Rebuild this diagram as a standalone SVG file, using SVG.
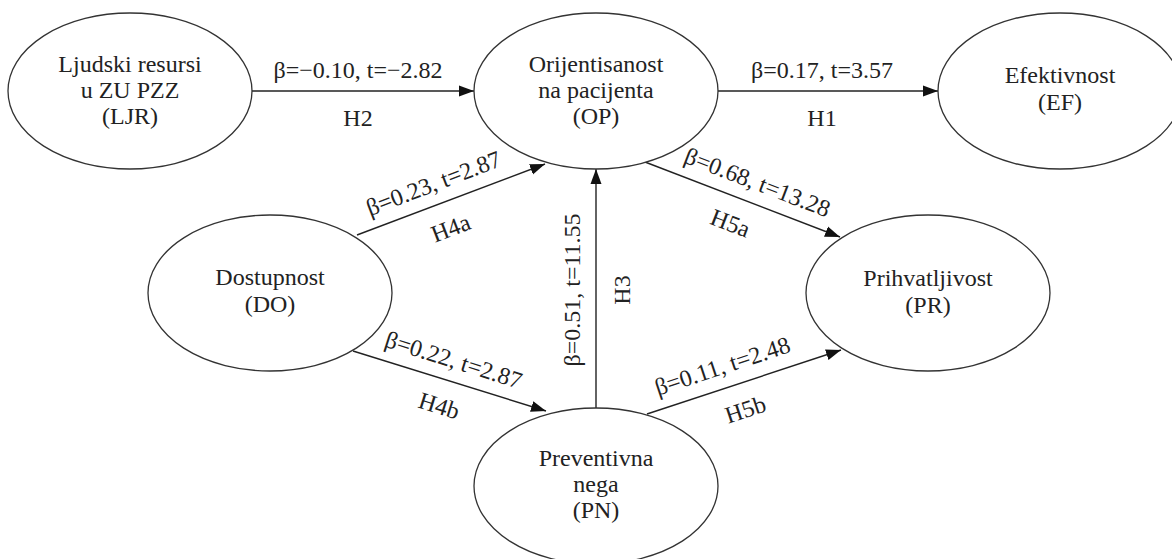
<svg xmlns="http://www.w3.org/2000/svg" width="1172" height="559" viewBox="0 0 1172 559">
<style>
.node ellipse{fill:#fff;stroke:#333;stroke-width:1.3}
text{font-family:"Liberation Serif","Times New Roman",serif;font-size:24px;fill:#222;text-anchor:middle}
.edge line{stroke:#222;stroke-width:1.4;marker-end:url(#ah)}
</style>
<defs>
<marker id="ah" markerUnits="userSpaceOnUse" markerWidth="16" markerHeight="12" refX="15" refY="6" orient="auto">
<path d="M0,0.5 L15,6 L0,11.5 z" fill="#111"/>
</marker>
</defs>
<rect width="1172" height="559" fill="#fff"/>
<g id="edges" class="edge">
<line x1="252" y1="91" x2="474" y2="91"/>
<line x1="718" y1="91" x2="938" y2="91"/>
<line x1="357" y1="235" x2="545" y2="164"/>
<line x1="353" y1="351" x2="546" y2="411"/>
<line x1="596" y1="408" x2="596" y2="169"/>
<line x1="645" y1="162" x2="840" y2="237"/>
<line x1="647" y1="414" x2="841" y2="350"/>
</g>
<g id="edge-labels">
<text x="358" y="78">β=−0.10, t=−2.82</text>
<text x="358" y="126">H2</text>
<text x="822" y="78">β=0.17, t=3.57</text>
<text x="822" y="126">H1</text>
<g transform="translate(441,203) rotate(-21)"><text y="-13">β=0.23, t=2.87</text><text y="35">H4a</text></g>
<g transform="translate(447,381) rotate(17.5)"><text y="-14">β=0.22, t=2.87</text><text y="34">H4b</text></g>
<g transform="translate(596,290) rotate(-90)"><text y="-16">β=0.51, t=11.55</text><text y="34">H3</text></g>
<g transform="translate(750,202) rotate(21)"><text y="-13">β=0.68, t=13.28</text></g>
<g transform="translate(740,198) rotate(21)"><text y="35">H5a</text></g>
<g transform="translate(729,386) rotate(-18.3)"><text y="-13">β=0.11, t=2.48</text></g>
<g transform="translate(737,384) rotate(-18.3)"><text y="35">H5b</text></g>
</g>
<g id="node-LJR" class="node">
<ellipse cx="130" cy="91" rx="122" ry="78"/>
<text x="130" y="72">Ljudski resursi</text>
<text x="130" y="98">u ZU PZZ</text>
<text x="130" y="124">(LJR)</text>
</g>
<g id="node-OP" class="node">
<ellipse cx="596" cy="91" rx="122" ry="78"/>
<text x="596" y="72">Orijentisanost</text>
<text x="596" y="98">na pacijenta</text>
<text x="596" y="124">(OP)</text>
</g>
<g id="node-EF" class="node">
<ellipse cx="1060" cy="91" rx="122" ry="78"/>
<text x="1060" y="83">Efektivnost</text>
<text x="1060" y="110">(EF)</text>
</g>
<g id="node-DO" class="node">
<ellipse cx="270" cy="293" rx="122" ry="78"/>
<text x="270" y="285">Dostupnost</text>
<text x="270" y="312">(DO)</text>
</g>
<g id="node-PR" class="node">
<ellipse cx="928" cy="293" rx="122" ry="78"/>
<text x="928" y="286">Prihvatljivost</text>
<text x="928" y="313">(PR)</text>
</g>
<g id="node-PN" class="node">
<ellipse cx="596" cy="486" rx="122" ry="78"/>
<text x="596" y="466">Preventivna</text>
<text x="596" y="492">nega</text>
<text x="596" y="518">(PN)</text>
</g>
</svg>
